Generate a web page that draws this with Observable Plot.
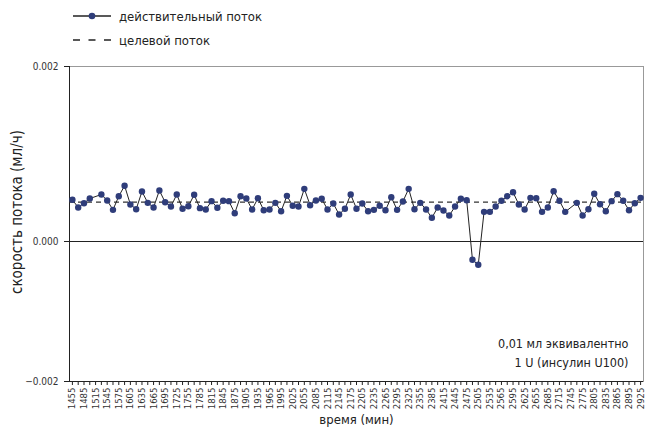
<!DOCTYPE html>
<html><head><meta charset="utf-8">
<script src="https://cdn.jsdelivr.net/npm/d3@7"></script>
<script src="https://cdn.jsdelivr.net/npm/@observablehq/plot@0.6"></script>
<style>
body{margin:0;background:#fff;font-family:"Liberation Sans Narrow","DejaVu Sans Condensed",sans-serif;}
#legend{height:50px;position:relative;font-size:13px;color:#222}
.row{position:absolute;left:73px;height:18px;display:flex;align-items:center;gap:8px}
</style></head>
<body>
<div id="legend"></div>
<div id="chart"></div>
<script>
const times = [1455,1470,1485,1500,1515,1530,1545,1560,1575,1590,1605,1620,1635,1650,1665,1680,1695,1710,1725,1740,
1755,1770,1785,1800,1815,1830,1845,1860,1875,1890,1905,1920,1935,1950,1965,1980,1995,2010,2025,2040,
2055,2070,2085,2100,2115,2130,2145,2160,2175,2190,2205,2220,2235,2250,2265,2280,2295,2310,2325,2340,
2355,2370,2385,2400,2415,2430,2445,2460,2475,2490,2505,2520,2535,2550,2565,2580,2595,2610,2625,2640,
2655,2670,2685,2700,2715,2730,2745,2760,2775,2790,2805,2820,2835,2850,2865,2880,2895,2910,2925];
const actualFlow = [0.000477,0.000389,0.000438,0.000491,null,0.000537,0.000469,0.000362,0.000518,0.000637,
0.000423,0.000369,0.000571,0.000442,0.000389,0.000583,0.000449,0.000400,0.000537,0.000374,
0.000403,0.000534,0.000381,0.000366,0.000461,0.000385,0.000465,0.000461,0.000323,0.000518,
0.000491,0.000366,0.000495,0.000358,0.000366,0.000442,0.000346,0.000522,0.000408,0.000400,
0.000602,0.000415,0.000469,0.000488,0.000366,0.000434,0.000309,0.000374,0.000537,0.000374,
0.000434,0.000346,0.000362,0.000408,0.000358,0.000506,0.000362,0.000457,0.000602,0.000369,
0.000442,0.000366,0.000271,0.000389,0.000354,0.000297,0.000400,0.000488,0.000472,-0.000209,
-0.000266,0.000339,0.000339,0.000400,0.000465,0.000518,0.000563,0.000423,0.000366,0.000499,
0.000495,0.000339,0.000389,0.000575,0.000465,0.000339,null,0.000442,0.000297,0.000369,
0.000545,0.000426,0.000346,0.000461,0.000541,0.000465,0.000358,0.000438,0.000499];
const targetFlow = [0.00045];
const xTickLabels = [1455,1485,1515,1545,1575,1605,1635,1665,1695,1725,1755,1785,1815,1845,1875,1905,1935,1965,1995,2025,
2055,2085,2115,2145,2175,2205,2235,2265,2295,2325,2355,2385,2415,2445,2475,2505,2535,2565,2595,2625,
2655,2685,2715,2745,2775,2805,2835,2865,2895,2925];
const yTicks = [-0.0016, 0, 0.002];
const yDomain = [-0.0016, 0.002];
const legendLabels = ["действительный поток", "целевой поток"];
const yTitle = "скорость потока (мл/ч)";
const xTitle = "время (мин)";
const note = "0,01 мл эквивалентно\n1 U (инсулин U100)";

const font = '"Liberation Sans Narrow","DejaVu Sans Condensed",sans-serif';
const dotColor = "#2f3d7a";

// legend (HTML above the SVG)
const leg = document.getElementById("legend");
leg.innerHTML = `
<div class="row" style="top:7px"><svg width="38" height="10"><line x1="0" x2="38" y1="5" y2="5" stroke="#222" stroke-width="1.6"/><circle cx="19" cy="5" r="3.3" fill="${dotColor}"/></svg><span>${legendLabels[0]}</span></div>
<div class="row" style="top:31px"><svg width="38" height="10"><line x1="0" x2="38" y1="5" y2="5" stroke="#222" stroke-width="1.6" stroke-dasharray="7,8.5"/></svg><span>${legendLabels[1]}</span></div>`;

const data = times.map((t, i) => ({t, v: actualFlow[i]}));
const valid = data.filter(d => d.v != null);
const half = (times[1] - times[0]) / 2;
const xDomain = [times[0] - half, times[times.length - 1] + half];
const labelSet = new Set(xTickLabels);

const chart = Plot.plot({
  width: 645, height: 381,
  marginLeft: 69, marginRight: 2, marginTop: 16, marginBottom: 50,
  style: {fontFamily: font, fontSize: "10px", color: "#333", background: "#fff"},
  x: {domain: xDomain},
  y: {domain: yDomain},
  marks: [
    Plot.frame({stroke: "#999"}),
    Plot.axisY({ticks: yTicks, tickFormat: d3.format(".3f"), tickSize: 5, tickPadding: 6, label: null, fontSize: 10, stroke: "#222"}),
    Plot.axisX({ticks: times, tickFormat: d => labelSet.has(d) ? String(d) : "", tickRotate: -90, tickSize: 4, tickPadding: 2, label: null, fontSize: 9.5, stroke: "#222"}),
    Plot.ruleX([xDomain[0]], {stroke: "#222"}),
    Plot.ruleY([yDomain[0]], {stroke: "#222"}),
    Plot.ruleY([0], {stroke: "#222"}),
    Plot.ruleY(targetFlow, {stroke: "#333", strokeDasharray: "5,4", strokeWidth: 1.2}),
    Plot.line(valid, {x: "t", y: "v", stroke: "#222", strokeWidth: 1}),
    Plot.dot(valid, {x: "t", y: "v", r: 3.2, fill: dotColor, stroke: "none"}),
    Plot.text([yTitle], {frameAnchor: "left", textAnchor: "middle", rotate: -90, dx: -52, dy: -12, fontSize: 15, fill: "#222"}),
    Plot.text([xTitle], {frameAnchor: "bottom", dy: 42, fontSize: 13, fill: "#222"}),
    Plot.text([note], {frameAnchor: "bottom-right", textAnchor: "end", lineAnchor: "bottom", dx: -15, dy: -15, lineHeight: 1.45, fontSize: 12.5, fill: "#222"})
  ]
});
document.getElementById("chart").appendChild(chart);
</script>
</body></html>
